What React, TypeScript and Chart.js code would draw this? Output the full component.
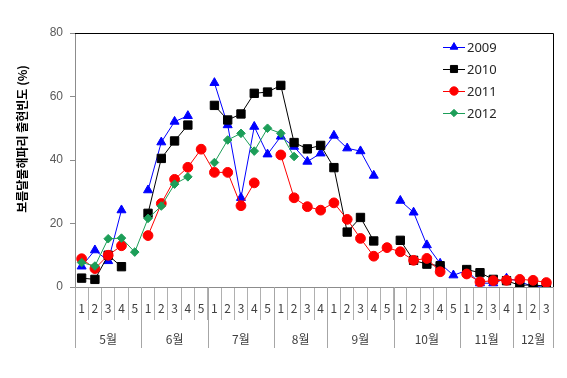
import React, { useEffect, useRef } from 'react';
import { Chart, registerables } from 'chart.js';

Chart.register(...registerables);

const weekLabels = [
  '1', '2', '3', '4', '5',
  '1', '2', '3', '4', '5',
  '1', '2', '3', '4', '5',
  '1', '2', '3', '4',
  '1', '2', '3', '4', '5',
  '1', '2', '3', '4', '5',
  '1', '2', '3', '4',
  '1', '2', '3',
];
const months = ['5월', '6월', '7월', '8월', '9월', '10월', '11월', '12월'];
const weeksPerMonth = [5, 5, 5, 4, 5, 5, 4, 3];
const yTicks = [0, 20, 40, 60, 80];
const yTitle = '보름달물해파리 출현빈도 (%)';

const s2009 = [
  6.5, 11.6, 8.2, 24.2, null,
  30.5, 45.6, 52.1, 53.9, null,
  64.3, 51, 28.1, 50.5, 41.8,
  47.4, 44.2, 39.5, 42.1,
  47.7, 43.7, 42.8, 35.1, null,
  27.2, 23.5, 13.2, 7.4, 3.7,
  5.2, 1.2, 1.2, 2.7,
  1.8, 0, 0.5,
];
const s2010 = [
  2.8, 2.4, 10, 6.4, null,
  23.2, 40.5, 46, 51, null,
  57.2, 52.6, 54.5, 61, 61.4,
  63.5, 45.5, 43.5, 44.6,
  37.6, 17.3, 21.9, 14.5, null,
  14.7, 8.4, 7.2, 6.7, null,
  5.5, 4.5, 2.4, 2,
  0.5, 0.7, 0.2,
];
const s2011 = [
  8.9, 5.8, 10, 13, null,
  16.2, 26.3, 33.9, 37.7, 43.4,
  36.1, 36.1, 25.6, 32.8, null,
  41.6, 28.1, 25.3, 24.2,
  26.5, 21.3, 15.3, 9.7, 12.4,
  11.1, 8.4, 9.0, 4.8, null,
  4.1, 1.6, 2.0, 2.1,
  2.4, 2.1, 1.4,
];
const s2012 = [
  7.7, 6.6, 15.2, 15.4, 11,
  21.6, 25.5, 32.4, 34.7, null,
  39.2, 46.3, 48.4, 42.8, 50,
  48.4, 41.1, null, null,
  null, null, null, null, null,
  null, null, null, null, null,
  null, null, null, null,
  null, null, null,
];

const seriesNames = ['2009', '2010', '2011', '2012'];
const seriesData = [s2009, s2010, s2011, s2012];
const seriesColors = ['#0000ff', '#000000', '#ff0000', '#1c9e58'];
const seriesStyles = ['triangle', 'rect', 'circle', 'rectRot'];
const seriesRadius = [5.2, 5.9, 4.9, 4.3];

function drawMarker(ctx: CanvasRenderingContext2D, style: string, x: number, y: number, r: number, color: string) {
  ctx.save();
  ctx.fillStyle = color;
  ctx.strokeStyle = color;
  ctx.lineWidth = 1;
  ctx.beginPath();
  if (style === 'triangle') {
    ctx.moveTo(x, y - r);
    ctx.lineTo(x + r * Math.sin((2 * Math.PI) / 3), y - r * Math.cos((2 * Math.PI) / 3));
    ctx.lineTo(x + r * Math.sin((4 * Math.PI) / 3), y - r * Math.cos((4 * Math.PI) / 3));
    ctx.closePath();
  } else if (style === 'rect') {
    const s = r * Math.SQRT1_2;
    ctx.rect(x - s, y - s, 2 * s, 2 * s);
  } else if (style === 'circle') {
    ctx.arc(x, y, r, 0, Math.PI * 2);
  } else {
    ctx.moveTo(x - r, y);
    ctx.lineTo(x, y - r);
    ctx.lineTo(x + r, y);
    ctx.lineTo(x, y + r);
    ctx.closePath();
  }
  ctx.fill();
  ctx.stroke();
  ctx.restore();
}

const extrasPlugin = {
  id: 'extras',
  afterDraw(chart: any) {
    const ctx: CanvasRenderingContext2D = chart.ctx;
    const area = chart.chartArea;
    const xs = chart.scales.x;

    // frame top & right
    ctx.save();
    ctx.strokeStyle = '#000000';
    ctx.lineWidth = 1;
    ctx.beginPath();
    ctx.moveTo(area.left, area.top + 0.5);
    ctx.lineTo(area.right + 0.5, area.top + 0.5);
    ctx.lineTo(area.right + 0.5, area.bottom);
    ctx.stroke();
    ctx.restore();

    // month separators and labels
    const half = (xs.getPixelForTick(1) - xs.getPixelForTick(0)) / 2;
    const edge = (i: number) =>
      i < weekLabels.length ? xs.getPixelForTick(i) - half : xs.getPixelForTick(weekLabels.length - 1) + half;
    ctx.save();
    ctx.strokeStyle = '#a6a6a6';
    ctx.lineWidth = 1;
    ctx.fillStyle = '#404040';
    ctx.font = '12px "Noto Sans CJK KR", sans-serif';
    ctx.textAlign = 'center';
    ctx.textBaseline = 'middle';
    let start = 0;
    for (let m = 0; m <= months.length; m++) {
      const ex = Math.round(edge(start)) + 0.5;
      ctx.beginPath();
      ctx.moveTo(ex, xs.top);
      ctx.lineTo(ex, xs.top + 61);
      ctx.stroke();
      if (m < months.length) {
        const end = start + weeksPerMonth[m];
        ctx.fillText(months[m], (edge(start) + edge(end)) / 2, xs.top + 52);
        start = end;
      }
    }
    ctx.restore();

    // y title
    ctx.save();
    ctx.translate(22, 139);
    ctx.rotate(-Math.PI / 2);
    ctx.fillStyle = '#000000';
    ctx.font = 'bold 12px "Noto Sans CJK KR", sans-serif';
    ctx.textAlign = 'center';
    ctx.textBaseline = 'middle';
    ctx.fillText(yTitle, 0, 0);
    ctx.restore();

    // legend
    const lx0 = area.right - 110;
    chart.data.datasets.forEach((ds: any, i: number) => {
      const y = area.top + 14 + i * 22;
      ctx.save();
      ctx.strokeStyle = ds.borderColor;
      ctx.lineWidth = 1;
      ctx.beginPath();
      ctx.moveTo(lx0, y + 0.5);
      ctx.lineTo(lx0 + 22, y + 0.5);
      ctx.stroke();
      ctx.restore();
      drawMarker(ctx, seriesStyles[i], lx0 + 11, y, seriesRadius[i] * 0.85, ds.borderColor);
      ctx.save();
      ctx.fillStyle = '#262626';
      ctx.font = '13px "Noto Sans", sans-serif';
      ctx.textAlign = 'left';
      ctx.textBaseline = 'middle';
      ctx.fillText(ds.label, lx0 + 24, y + 1);
      ctx.restore();
    });
  },
};

export default function App() {
  const ref = useRef<HTMLCanvasElement | null>(null);

  useEffect(() => {
    if (!ref.current) return;
    const chart = new Chart(ref.current, {
      type: 'line',
      data: {
        labels: weekLabels,
        datasets: seriesNames.map((name, i) => ({
          label: name,
          data: seriesData[i],
          borderColor: seriesColors[i],
          backgroundColor: seriesColors[i],
          pointBackgroundColor: seriesColors[i],
          pointBorderColor: seriesColors[i],
          pointStyle: seriesStyles[i] as any,
          pointRadius: seriesRadius[i],
          pointBorderWidth: 1,
          borderWidth: 1,
          spanGaps: false,
          tension: 0,
          order: seriesNames.length - i,
        })),
      },
      options: {
        responsive: false,
        animation: false,
        devicePixelRatio: 1,
        layout: { padding: { left: 0, right: 14, top: 33, bottom: 0 } },
        plugins: {
          legend: { display: false },
          tooltip: { enabled: false },
        },
        scales: {
          x: {
            type: 'category',
            offset: true,
            afterFit: (s: any) => {
              s.height = 91;
            },
            grid: {
              display: true,
              offset: true,
              drawOnChartArea: false,
              drawTicks: true,
              tickLength: 33,
              color: '#b0b0b0',
            },
            border: { display: true, color: '#8c8c8c' },
            ticks: {
              autoSkip: false,
              maxRotation: 0,
              padding: -19,
              color: '#404040',
              font: { size: 12, family: '"Noto Sans CJK KR", sans-serif' },
            },
          },
          y: {
            min: yTicks[0],
            max: yTicks[yTicks.length - 1],
            afterFit: (s: any) => {
              s.width = 75;
            },
            afterBuildTicks: (s: any) => {
              s.ticks = yTicks.map((v) => ({ value: v }));
            },
            grid: {
              display: true,
              drawOnChartArea: false,
              drawTicks: true,
              tickLength: 5,
              color: '#8c8c8c',
            },
            border: { display: true, color: '#8c8c8c' },
            ticks: {
              padding: 7,
              color: '#595959',
              font: { size: 12, family: '"Liberation Sans", Arial, sans-serif' },
            },
          },
        },
      },
      plugins: [extrasPlugin],
    });
    return () => chart.destroy();
  }, []);

  return (
    <div style={{ position: 'absolute', left: 0, top: 0, width: 567, height: 378, background: '#ffffff' }}>
      <canvas ref={ref} width={567} height={378} style={{ width: 567, height: 378 }} />
    </div>
  );
}
